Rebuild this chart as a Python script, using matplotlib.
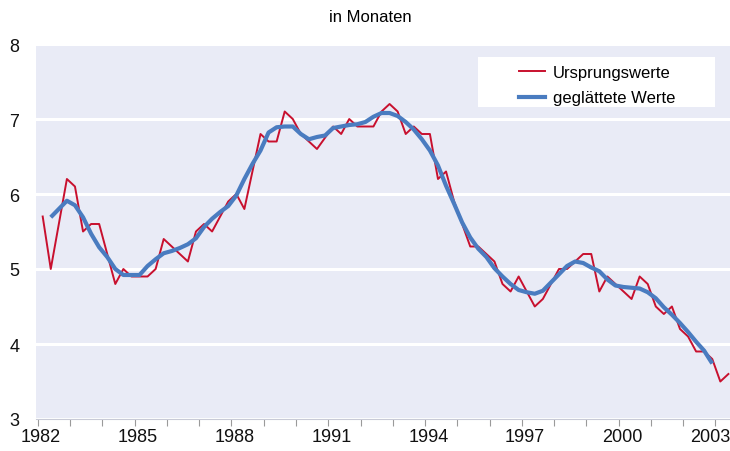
import numpy as np
import matplotlib
matplotlib.use("Agg")
import matplotlib.pyplot as plt
from matplotlib.patches import Rectangle
from matplotlib.lines import Line2D
import matplotlib.transforms as mtransforms

plt.rcParams['font.family'] = ['Liberation Sans', 'DejaVu Sans']

# Quarterly data, 1982Q1 .. 2003Q2
ursprungswerte = [
    5.7, 5.0, 5.6, 6.2, 6.1, 5.5, 5.6, 5.6, 5.2, 4.8,
    5.0, 4.9, 4.9, 4.9, 5.0, 5.4, 5.3, 5.2, 5.1, 5.5,
    5.6, 5.5, 5.7, 5.9, 6.0, 5.8, 6.3, 6.8, 6.7, 6.7,
    7.1, 7.0, 6.8, 6.7, 6.6, 6.75, 6.9, 6.8, 7.0, 6.9,
    6.9, 6.9, 7.1, 7.2, 7.1, 6.8, 6.9, 6.8, 6.8, 6.2,
    6.3, 5.9, 5.6, 5.3, 5.3, 5.2, 5.1, 4.8, 4.7, 4.9,
    4.7, 4.5, 4.6, 4.8, 5.0, 5.0, 5.1, 5.2, 5.2, 4.7,
    4.9, 4.8, 4.7, 4.6, 4.9, 4.8, 4.5, 4.4, 4.5, 4.2,
    4.1, 3.9, 3.9, 3.8, 3.5, 3.6,
]
# smoothed series, from 1982Q2 .. 2002Q4
geglaettet = [
    5.69, 5.80, 5.91, 5.85, 5.69, 5.47, 5.29, 5.16, 5.00, 4.92,
    4.92, 4.92, 5.04, 5.13, 5.21, 5.24, 5.28, 5.33, 5.41, 5.56,
    5.67, 5.76, 5.84, 5.98, 6.20, 6.40, 6.58, 6.82, 6.89, 6.90,
    6.90, 6.80, 6.73, 6.76, 6.78, 6.88, 6.90, 6.92, 6.93, 6.96,
    7.03, 7.08, 7.08, 7.04, 6.96, 6.86, 6.73, 6.58, 6.38, 6.11,
    5.87, 5.62, 5.42, 5.27, 5.16, 5.01, 4.90, 4.80, 4.72, 4.69,
    4.67, 4.71, 4.82, 4.93, 5.04, 5.10, 5.08, 5.02, 4.97, 4.86,
    4.78, 4.76, 4.75, 4.74, 4.69, 4.61, 4.49, 4.39, 4.28, 4.16,
    4.03, 3.91, 3.74,
]
smooth_offset = 1  # first smoothed value belongs to the 2nd quarter
year_labels = ["1982", "1985", "1988", "1991", "1994", "1997", "2000", "2003"]
y_ticks = [3, 4, 5, 6, 7, 8]
series_names = ["Ursprungswerte", "geglättete Werte"]

red = "#C8102E"
blue = "#4A7CC0"
bg = "#E9EBF6"

W, H = 730, 452
fig = plt.figure(figsize=(W / 100, H / 100), dpi=100)
ax = fig.add_axes([36 / W, 32 / H, 694 / W, 375 / H])
ax.set_facecolor(bg)

x_raw = np.arange(len(ursprungswerte))
x_s = np.arange(len(geglaettet)) + smooth_offset

ax.plot(x_raw, ursprungswerte, color=red, lw=1.4, zorder=3)
ax.plot(x_s, geglaettet, color=blue, lw=3.0, zorder=4,
        solid_capstyle="butt", solid_joinstyle="round")

ax.set_ylim(3, 8)
ax.set_xlim(-0.83, 85.2)
ax.set_yticks(y_ticks)
ax.set_yticklabels([str(v) for v in y_ticks])
ax.grid(axis="y", color="white", lw=2.2, zorder=1)
ax.set_axisbelow(True)

# tick marks every 4 quarters, year labels every 12 quarters
ax.set_xticks(np.arange(22) * 4 - 0.6)
ax.set_xticklabels([])
ax.tick_params(axis="x", length=5, width=0.8, color="#9A9A9A", direction="out")
ax.tick_params(axis="y", length=0, pad=12, labelsize=13, colors="#111111")

trans = mtransforms.blended_transform_factory(ax.transData, ax.transAxes)
label_y = -18 / 375
for k, lab in enumerate(year_labels):
    pos = k * 12 - 0.2
    if k == len(year_labels) - 1:
        ax.text(1.0, label_y, lab, transform=ax.transAxes, ha="right", va="center",
                fontsize=13, color="#111111", clip_on=False)
    else:
        ax.text(pos, label_y, lab, transform=trans, ha="center", va="center",
                fontsize=13, color="#111111", clip_on=False)

for s in ["top", "right", "left"]:
    ax.spines[s].set_visible(False)
ax.spines["bottom"].set_color("#C8CAD6")
ax.spines["bottom"].set_linewidth(0.8)

fig.text(370 / W, 1 - 18 / H, "in Monaten", ha="center", va="center", fontsize=12)

# legend box (white, Excel style with wide padding)
fig.patches.append(Rectangle((478 / W, 1 - 108 / H), (715 - 478) / W, 50 / H,
                             transform=fig.transFigure, facecolor="white",
                             edgecolor="none", zorder=5))
handles = [Line2D([], [], color=red, lw=1.4), Line2D([], [], color=blue, lw=3.0)]
leg = fig.legend(handles, series_names, loc="upper left",
                 bbox_to_anchor=(519 / W, 1 - 66 / H), frameon=False, fontsize=12,
                 handlelength=1.55, handletextpad=0.5, borderpad=0.0,
                 labelspacing=0.62, borderaxespad=0)
leg.set_zorder(6)

fig.savefig("out.png", dpi=100, facecolor="white")
